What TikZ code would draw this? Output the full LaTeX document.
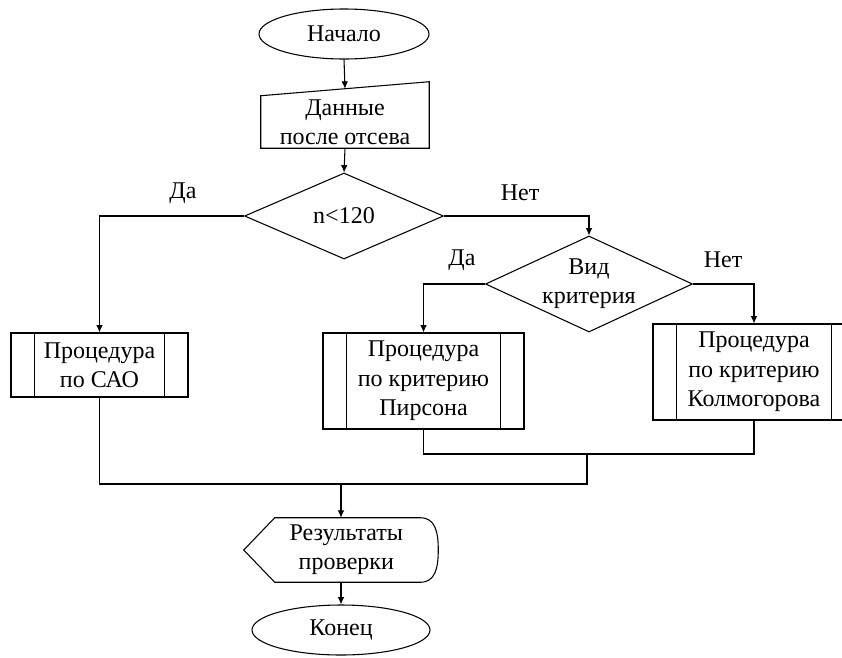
\documentclass[tikz,border=0pt]{standalone}
\usepackage{fontspec}
\setmainfont{Liberation Serif}
\usetikzlibrary{shapes.geometric,arrows.meta,calc}

\tikzset{
  every node/.style={font=\fontsize{18}{22}\selectfont, align=center, inner sep=0pt},
  line/.style={line width=0.8pt, draw=black},
  arr/.style={line, -{Latex[length=5.5pt,width=5pt]}},
  terminal/.style={ellipse, line, minimum width=#1, minimum height=37.5pt},
  decision/.style={diamond, aspect=2.15, line},
  subproc/.style={rectangle, line,
    path picture={
      \draw[line width=0.8pt] ([xshift=17.5pt]path picture bounding box.north west) -- ([xshift=17.5pt]path picture bounding box.south west);
      \draw[line width=0.8pt] ([xshift=-17.5pt]path picture bounding box.north east) -- ([xshift=-17.5pt]path picture bounding box.south east);
    }},
  lbl/.style={font=\fontsize{18}{22}\selectfont}
}

\begin{document}
\begin{tikzpicture}[x=0.75pt, y=-0.75pt]
  \useasboundingbox (0,0) rectangle (842,657);
  \clip (0,0) rectangle (842,657);

  % terminals
  \node[terminal=127.5pt] (start) at (344,34) {Начало};
  \node[terminal=133.5pt] (stop) at (341,630) {Конец};

  % manual input block (slanted top edge)
  \node[minimum width=126pt, minimum height=39pt] (data) at (345,122) {Данные\\после отсева};
  \draw[line] (data.south west) -- (data.north west) -- ($(data.north east)+(0,-14)$) -- (data.south east) -- cycle;
  \coordinate (dataIn) at ($(data.north)+(0,-7)$);

  % decisions
  \node[decision, minimum width=149.25pt, minimum height=64.5pt] (d1) at (344,216) {n<120};
  \node[decision, minimum width=155.25pt, minimum height=72pt] (d2) at (589,284) {Вид\\критерия};

  % predefined processes
  \node[subproc, minimum width=132.75pt, minimum height=48pt] (cao) at (99.5,365) {Процедура\\по САО};
  \node[subproc, minimum width=150.75pt, minimum height=72pt] (pear) at (423.5,381) {Процедура\\по критерию\\Пирсона};
  \node[subproc, minimum width=151.5pt, minimum height=72pt] (kolm) at (754,372) {Процедура\\по критерию\\Колмогорова};

  % display block
  \node[minimum width=145.5pt, minimum height=48pt] (res) at (341,550) {\hspace*{8pt}Результаты\\\hspace*{8pt}проверки};
  \draw[line] (res.west) -- ($(res.north west)+(31,0)$) -- ($(res.north east)+(-18,0)$)
    .. controls ($(res.north east)+(-3,0)$) and ($(res.east)+(0,-18)$) .. (res.east)
    .. controls ($(res.east)+(0,18)$) and ($(res.south east)+(-3,0)$) .. ($(res.south east)+(-18,0)$)
    -- ($(res.south west)+(31,0)$) -- cycle;

  % branch labels
  \node[lbl] (yes1) at (183,193) {Да};
  \node[lbl] (no1) at (520,193) {Нет};
  \node[lbl] (yes2) at (462,260) {Да};
  \node[lbl] (no2) at (723,260) {Нет};

  % junction points
  \coordinate (m1) at (587,454);
  \coordinate (m2) at (341,484);

  % connectors
  \draw[arr] (start.south) -- (dataIn);
  \draw[arr] (data.south) -- (d1.north);
  \draw[arr] (d1.west) -| (cao.north);
  \draw[arr] (d1.east) -| (d2.north);
  \draw[arr] (d2.west) -| (pear.north);
  \draw[arr] (d2.east) -| (kolm.north);
  \draw[line] (pear.south) |- (m1);
  \draw[line] (kolm.south) |- (m1);
  \draw[line] (m1) |- (m2);
  \draw[line] (cao.south) |- (m2);
  \draw[arr] (m2) -- (res.north);
  \draw[arr] (res.south) -- (stop.north);
\end{tikzpicture}
\end{document}
